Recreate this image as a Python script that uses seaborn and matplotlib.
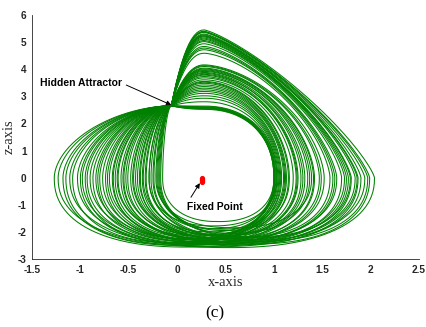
import numpy as np
import pandas as pd
import matplotlib
matplotlib.use("Agg")
import matplotlib.pyplot as plt
import seaborn as sns

# Per-loop measurements of the trajectory projected on the x-z plane:
# crest height (z), rightmost reach (x), leftmost reach (x), floor depth (z)
loop_crest = [5.45, 5.40, 5.36, 5.30, 5.27, 5.22, 5.19, 5.11, 5.02, 4.94, 4.84, 4.72, 4.59,
              4.16, 4.10, 4.04, 3.98, 3.95, 3.88, 3.85, 3.78, 3.73, 3.61, 3.55, 3.48, 3.36,
              3.24, 3.11, 2.93, 2.80,
              2.62, 2.58, 2.55, 2.52, 2.60,
              5.38, 5.24, 5.15, 5.06, 4.78,
              4.13, 4.01, 3.92, 3.81, 3.68, 3.52, 3.42, 3.30, 3.18, 3.02,
              2.57, 2.64, 2.54]
loop_right = [2.04, 1.99, 1.94, 1.90, 1.87, 1.84, 1.80, 1.77, 1.73, 1.70, 1.65, 1.61, 1.58,
              1.52, 1.47, 1.42, 1.39, 1.35, 1.32, 1.28, 1.25, 1.23, 1.20, 1.16, 1.13, 1.11,
              1.08, 1.06, 1.04, 1.03,
              1.02, 1.01, 1.00, 1.00, 1.01,
              1.97, 1.86, 1.79, 1.75, 1.63,
              1.49, 1.41, 1.37, 1.30, 1.24, 1.15, 1.12, 1.10, 1.07, 1.05,
              1.01, 1.03, 1.00]
loop_left = [-0.98, -0.46, -1.23, -0.29, -0.70, -1.11, -0.53, -0.19, -0.84, -0.39, -1.03, -0.61, -0.25,
             -0.77, -1.27, -0.43, -0.22, -0.93, -0.56, -0.32, -1.18, -0.67, -0.48, -0.17, -0.87, -0.36,
             -0.64, -1.15, -0.51, -0.29,
             -0.80, -0.58, -0.15, -1.08, -0.74,
             -0.35, -0.90, -0.21, -0.62, -0.45,
             -0.41, -0.72, -0.20, -1.00, -0.27, -0.55, -0.82, -0.18, -0.66, -0.38,
             -0.33, -0.95, -0.24]
loop_floor = [-2.58, -2.45, -2.55, -2.30, -2.48, -2.52, -2.40, -2.22, -2.44, -2.32, -2.47, -2.36, -2.20,
              -2.38, -2.56, -2.25, -1.85, -2.42, -2.28, -2.15, -2.50, -2.30, -2.20, -1.95, -2.35, -2.08,
              -2.22, -2.45, -2.12, -1.78,
              -2.25, -2.15, -1.62, -2.40, -2.28,
              -2.35, -2.46, -2.18, -2.40, -2.30,
              -2.26, -2.38, -2.05, -2.46, -2.12, -2.24, -2.36, -1.90, -2.30, -2.10,
              -2.00, -2.42, -1.88]

# Where every loop passes through, and where the crests sit
pinch_x, pinch_z = -0.06, 2.65
crest_x = 0.28

# Stable equilibrium
fixed_x = [0.255, 0.255]
fixed_z = [-0.01, -0.15]

x_ticks = [-1.5, -1, -0.5, 0, 0.5, 1, 1.5, 2, 2.5]
x_labels = ["-1.5", "-1", "-0.5", "0", "0.5", "1", "1.5", "2", "2.5"]
z_ticks = [-3, -2, -1, 0, 1, 2, 3, 4, 5, 6]
z_labels = [str(t) for t in z_ticks]


def _sp(c, e):
    return np.sign(c) * np.abs(c) ** e


def loop_outline(crest, right, left, floor):
    """Outline of one loop: pinch -> crest -> right reach -> floor -> left reach -> pinch."""
    w = np.clip((crest - 2.55) / 2.9, 0, 1)
    s = np.linspace(0, 1, 14)
    x1 = pinch_x + (crest_x - pinch_x) * s
    z1 = pinch_z + (crest - pinch_z) * (1 - (1 - s) ** 2.2)

    p = 2.2 - 0.95 * w
    t = np.linspace(np.pi / 2, 0, 40)
    x2 = crest_x + (right - crest_x) * _sp(np.cos(t), 2 / p)
    z2 = crest * _sp(np.sin(t), 2 / p)

    t = np.linspace(0, np.pi, 60)
    xc, a = (right + left) / 2, (right - left) / 2
    x3 = xc + a * _sp(np.cos(t), 2 / 2.3)
    z3 = floor * _sp(np.sin(t), 2 / 2.3)

    t = np.linspace(0, np.pi / 2, 30)
    x4 = pinch_x - (pinch_x - left) * _sp(np.cos(t), 2 / 1.8)
    z4 = pinch_z * _sp(np.sin(t), 2 / 1.8)

    return np.concatenate([x1, x2, x3, x4]), np.concatenate([z1, z2, z3, z4])


frames = []
for k, (c, r, l, f) in enumerate(zip(loop_crest, loop_right, loop_left, loop_floor)):
    lx, lz = loop_outline(c, r, l, f)
    frames.append(pd.DataFrame({"x": lx, "z": lz, "loop": k}))
orbit = pd.concat(frames, ignore_index=True)
fixed = pd.DataFrame({"x": fixed_x, "z": fixed_z})

sns.set_style("white")
plt.rcParams["font.family"] = ["Liberation Sans", "DejaVu Sans"]

axis_color = "#262626"
fig = plt.figure(figsize=(4.27, 3.27), dpi=100)
ax = fig.add_axes([32 / 427, 1 - 259 / 327, 387 / 427, 244 / 327])

sns.lineplot(data=orbit, x="x", y="z", units="loop", estimator=None, sort=False,
             color="#008000", linewidth=0.75, ax=ax, legend=False)
sns.lineplot(data=fixed, x="x", y="z", estimator=None, sort=False, color="red",
             linewidth=3.8, solid_capstyle="round", ax=ax, legend=False)

ax.set_xlim(-1.5, 2.5)
ax.set_ylim(-3, 6)
ax.set_xticks(x_ticks)
ax.set_xticklabels(x_labels)
ax.set_yticks(z_ticks)
ax.set_yticklabels(z_labels)
ax.tick_params(direction="in", length=3, width=0.6, colors=axis_color,
               labelsize=7.2, pad=4)
for lab in ax.get_xticklabels() + ax.get_yticklabels():
    lab.set_fontweight("bold")
for side in ("top", "right"):
    ax.spines[side].set_visible(False)
for side in ("left", "bottom"):
    ax.spines[side].set_color(axis_color)
    ax.spines[side].set_linewidth(0.6)

serif = ["Liberation Serif", "DejaVu Serif"]
ax.set_xlabel("x-axis", family=serif, fontsize=10.5, color=axis_color)
ax.set_ylabel("z-axis", family=serif, fontsize=10.5, color=axis_color)
ax.xaxis.set_label_coords(0.5, -0.068)
ax.yaxis.set_label_coords(-0.042, 0.5)

ax.annotate("Hidden Attractor", xy=(pinch_x, 2.68), xytext=(-1.42, 3.49),
            ha="left", va="center", fontsize=7.5, fontweight="bold", color="black",
            arrowprops=dict(arrowstyle="-|>", color="black", lw=0.7, shrinkA=1, shrinkB=0,
                            mutation_scale=7, relpos=(1.0, 0.5)))
ax.annotate("Fixed Point", xy=(0.235, -0.2), xytext=(0.39, -1.07),
            ha="center", va="center", fontsize=7.4, fontweight="bold", color="black",
            arrowprops=dict(arrowstyle="-|>", color="black", lw=0.7, shrinkA=1, shrinkB=0,
                            mutation_scale=7, relpos=(0.02, 1.0)))

fig.text(215 / 427, 1 - 313 / 327, "(c)", ha="center", va="center",
         family=serif, fontsize=12.5, color="black")

fig.savefig("out.png", dpi=100)
